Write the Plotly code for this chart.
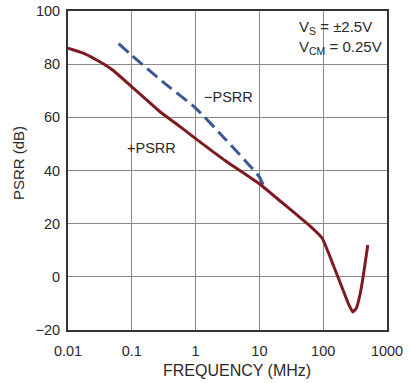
import plotly.graph_objects as go

# +PSRR (solid dark red)
freq_pos = [0.01, 0.018, 0.032, 0.05, 0.1, 0.28, 0.57, 1, 3, 10, 20, 40, 63, 96,
            146, 209, 250, 290, 330, 383, 432, 500]
psrr_pos = [86, 84, 80.8, 77.8, 71.5, 62, 56.5, 52, 43.5, 35, 29, 23, 19, 14.6,
            4, -5.5, -10.3, -13.2, -11.8, -6, 1.5, 12]

# -PSRR (dashed blue)
freq_neg = [0.062, 0.1, 0.3, 1, 3, 10, 11.5]
psrr_neg = [87.7, 83.3, 73.5, 63.5, 51.5, 37.6, 34.5]

x_ticks = [0.01, 0.1, 1, 10, 100, 1000]
x_tick_labels = ["0.01", "0.1", "1", "10", "100", "1000"]
y_ticks = [-20, 0, 20, 40, 60, 80, 100]
y_tick_labels = ["\u221220", "0", "20", "40", "60", "80", "100"]

FONT = "Liberation Sans, Arial, sans-serif"

fig = go.Figure()
fig.add_trace(go.Scatter(x=freq_neg, y=psrr_neg, mode="lines",
                         line=dict(color="#3b5794", width=3, dash="13px,6px",
                                   shape="spline", smoothing=0.5),
                         showlegend=False))
fig.add_trace(go.Scatter(x=freq_pos, y=psrr_pos, mode="lines",
                         line=dict(color="#7e1b22", width=3, shape="spline", smoothing=0.4),
                         showlegend=False))

fig.update_layout(
    width=412, height=383,
    margin=dict(l=68, r=25, t=11, b=53),
    paper_bgcolor="white", plot_bgcolor="white",
    font=dict(family=FONT, size=14.5, color="#2a2a2a"),
    xaxis=dict(type="log", range=[-2, 3], tickvals=x_ticks, ticktext=x_tick_labels,
               showgrid=True, gridcolor="#8a8a8a", gridwidth=1.3, automargin=False,
               showline=True, linecolor="#333", linewidth=2, mirror=True,
               ticks="outside", ticklen=7, tickcolor="rgba(0,0,0,0)", zeroline=False),
    yaxis=dict(range=[-20, 100], tickvals=y_ticks, ticktext=y_tick_labels,
               showgrid=True, gridcolor="#8a8a8a", gridwidth=1.3, automargin=False,
               showline=True, linecolor="#333", linewidth=2, mirror=True,
               ticks="outside", ticklen=3, tickcolor="rgba(0,0,0,0)", zeroline=False),
    annotations=[
        dict(x=0.53, y=-0.128, xref="paper", yref="paper", xanchor="center", yanchor="middle",
             showarrow=False, text="FREQUENCY (MHz)", font=dict(size=16)),
        dict(x=-0.157, y=0.523, xref="paper", yref="paper", xanchor="center", yanchor="middle",
             showarrow=False, text="PSRR (dB)", textangle=-90, font=dict(size=15)),
        dict(x=0.99, y=0.985, xref="paper", yref="paper", xanchor="right", yanchor="top",
             align="left", showarrow=False, font=dict(size=15),
             text="V<sub>S</sub> = ±2.5V<br>V<sub>CM</sub> = 0.25V"),
        dict(x=0.52, y=67.8, xref="x", yref="y", xanchor="center", yanchor="middle",
             showarrow=False, text="\u2212PSRR", font=dict(size=14.5)),
        dict(x=-0.686, y=48.3, xref="x", yref="y", xanchor="center", yanchor="middle",
             showarrow=False, text="+PSRR", font=dict(size=14.5)),
    ],
)

# remove the default page margin so the figure sits at the window's top-left corner
fig.write_html("out.html", config={"displayModeBar": False},
               post_script="document.body.style.margin='0';document.body.style.overflow='hidden';")
